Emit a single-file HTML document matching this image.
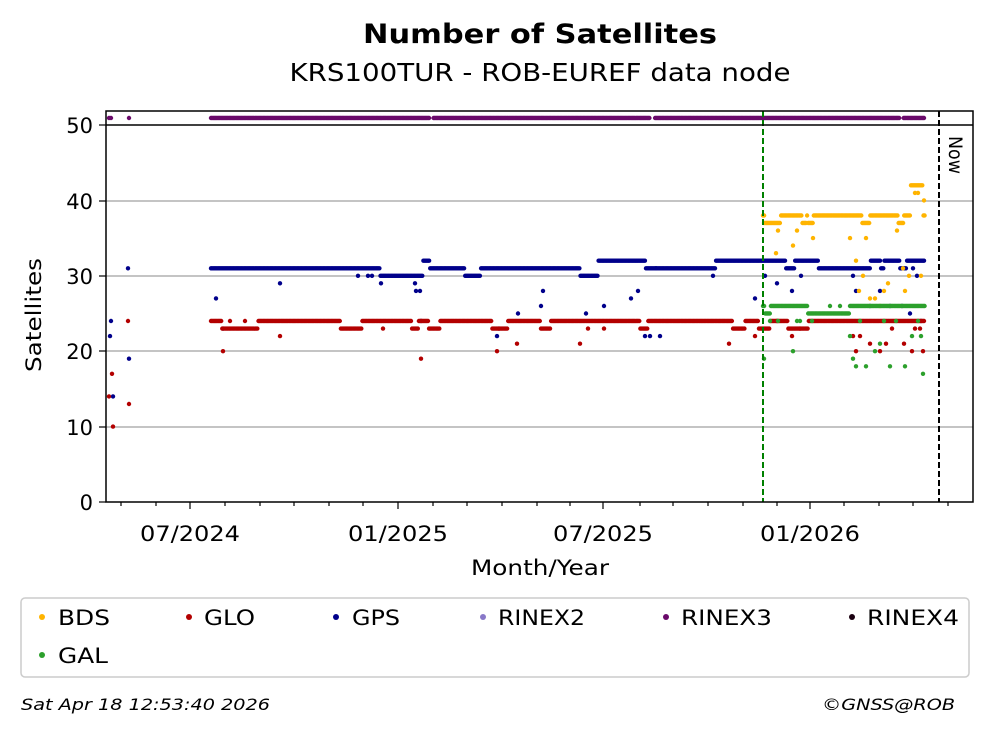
<!DOCTYPE html>
<html><head><meta charset="utf-8"><style>
body{margin:0;background:#fff}
svg{display:block}
text{font-family:"DejaVu Sans","Liberation Sans",sans-serif}
</style></head><body>
<svg id="s" width="992" height="734" viewBox="0 0 992 734" xmlns="http://www.w3.org/2000/svg">
<rect width="992" height="734" fill="#fff"/>
<text x="540" y="43" font-size="27" font-weight="bold" text-anchor="middle" textLength="354" lengthAdjust="spacingAndGlyphs">Number of Satellites</text>
<text x="540" y="81" font-size="25" text-anchor="middle" textLength="501" lengthAdjust="spacingAndGlyphs">KRS100TUR - ROB-EUREF data node</text>
<g stroke="#b0b0b0" stroke-width="1.5">
<line x1="106" x2="973" y1="427" y2="427"/><line x1="106" x2="973" y1="351" y2="351"/>
<line x1="106" x2="973" y1="276" y2="276"/><line x1="106" x2="973" y1="201" y2="201"/>
</g>
<g id="dots"></g>
<line x1="763" x2="763" y1="111" y2="502" stroke="#008000" stroke-width="2" stroke-dasharray="6,3"/>
<line x1="939" x2="939" y1="111" y2="502" stroke="#000" stroke-width="2" stroke-dasharray="6,3"/>
<text transform="translate(949,136) rotate(90)" font-size="19" textLength="38" lengthAdjust="spacingAndGlyphs">Now</text>
<rect x="106" y="111" width="867" height="391" fill="none" stroke="#000" stroke-width="1.5"/>
<line x1="106" x2="973" y1="125" y2="125" stroke="#000" stroke-width="1.5"/>
<g stroke="#000" stroke-width="1.2" id="ticks"></g>
<g font-size="21" text-anchor="end">
<text x="93" y="510">0</text><text x="93" y="435">10</text><text x="93" y="359">20</text>
<text x="93" y="284">30</text><text x="93" y="209">40</text><text x="93" y="133">50</text>
</g>
<g font-size="21" text-anchor="middle">
<text x="190" y="541" textLength="100" lengthAdjust="spacingAndGlyphs">07/2024</text>
<text x="398" y="541" textLength="100" lengthAdjust="spacingAndGlyphs">01/2025</text>
<text x="603" y="541" textLength="100" lengthAdjust="spacingAndGlyphs">07/2025</text>
<text x="810" y="541" textLength="100" lengthAdjust="spacingAndGlyphs">01/2026</text>
<text x="540" y="575" textLength="138" lengthAdjust="spacingAndGlyphs">Month/Year</text>
</g>
<text transform="translate(41,315) rotate(-90)" font-size="21" text-anchor="middle" textLength="114" lengthAdjust="spacingAndGlyphs">Satellites</text>
<rect x="21" y="598" width="948" height="79" rx="4" fill="#fff" stroke="#ccc" stroke-width="1.5"/>
<g font-size="21">
<circle cx="42" cy="617" r="3" fill="#ffb400"/><text x="58" y="625" textLength="52" lengthAdjust="spacingAndGlyphs">BDS</text>
<circle cx="189" cy="617" r="3" fill="#b30000"/><text x="204" y="625" textLength="51" lengthAdjust="spacingAndGlyphs">GLO</text>
<circle cx="336" cy="617" r="3" fill="#00008b"/><text x="352" y="625" textLength="48" lengthAdjust="spacingAndGlyphs">GPS</text>
<circle cx="483" cy="617" r="3" fill="#8878c8"/><text x="498" y="625" textLength="87" lengthAdjust="spacingAndGlyphs">RINEX2</text>
<circle cx="666" cy="617" r="3" fill="#6a0a6a"/><text x="681" y="625" textLength="91" lengthAdjust="spacingAndGlyphs">RINEX3</text>
<circle cx="852" cy="617" r="3" fill="#1a0010"/><text x="867" y="625" textLength="92" lengthAdjust="spacingAndGlyphs">RINEX4</text>
<circle cx="42" cy="655" r="3" fill="#2ca02c"/><text x="58" y="663" textLength="50" lengthAdjust="spacingAndGlyphs">GAL</text>
</g>
<text x="21" y="710" font-size="16" font-style="italic" textLength="249" lengthAdjust="spacingAndGlyphs">Sat Apr 18 12:53:40 2026</text>
<text x="822" y="710" font-size="16" font-style="italic" textLength="133" lengthAdjust="spacingAndGlyphs">©GNSS@ROB</text>
</svg>
<script>
var g=document.getElementById('dots'),out='';
function Y(v){return 502-v*7.54}
function dot(x,v,c){out+='<circle cx="'+x.toFixed(1)+'" cy="'+(v==51?118:Y(v)).toFixed(1)+'" r="2.2" fill="'+c+'"/>';}
function series(segs,pts,c){
 var x0=segs[0][0],x1=segs[0][1];
 for(var x=x0;x<=x1;x+=1.13){var v=null;for(var i=0;i<segs.length;i++){if(x>=segs[i][0]&&x<=segs[i][1])v=segs[i][2];}
  if(v!==null)dot(x,v,c);}
 pts.forEach(function(p){dot(p[0],p[1],c)});
}
series([[211,925,51],[430,433,null],[650,655,null],[900,903,null]],[[109,51],[111,51],[129,51]],'#6a0a6a');
series([[211,925,31],[380,423,30],[423,430,32],[465,480,30],[580,598,30],[598,645,32],[715,790,32],[786,800,31],[795,818,32],[848,860,31],[870,880,32],[884,900,32],[906,925,32],[820,848,31]],
[[110,22],[111,24],[113,14],[128,31],[129,19],[216,27],[223,23],[280,29],[358,30],[368,30],[372,30],[381,29],[415,29],[416,28],[420,28],[421,24],[497,22],[499,23],[518,25],[541,26],[543,28],[586,25],[604,26],[631,27],[638,28],[645,22],[650,22],[656,31],[660,22],[713,30],[755,27],[765,30],[777,29],[792,28],[801,30],[853,30],[856,28],[870,26],[880,28],[890,26],[902,26],[910,25],[921,24],[913,31],[917,30]],'#00008b');
series([[211,925,24],[222,258,23],[340,362,23],[412,418,23],[428,440,23],[492,508,23],[540,550,23],[640,648,23],[733,745,23],[758,770,23],[788,808,23],[860,920,24]],
[[109,14],[112,17],[113,10],[128,24],[129,13],[223,20],[230,24],[245,24],[280,22],[383,23],[421,19],[497,20],[517,21],[580,21],[588,23],[604,23],[729,21],[755,22],[777,24],[792,22],[800,23],[853,22],[856,20],[860,22],[870,21],[880,20],[886,21],[892,23],[904,21],[912,20],[915,23],[920,23],[923,20]],'#b30000');
series([[763,925,38],[765,770,37],[770,780,37],[802,806,37],[808,813,37],[862,870,37],[898,904,37],[910,923,42]],
[[764,37],[776,33],[778,36],[793,34],[797,36],[813,35],[850,35],[856,32],[859,28],[863,30],[866,35],[870,27],[875,27],[880,26],[884,28],[888,29],[897,36],[905,28],[909,30],[915,41],[918,41],[924,40],[921,30],[903,31]],'#ffb400');
series([[763,925,26],[765,770,25],[808,850,25]],
[[764,19],[770,24],[778,24],[793,20],[797,24],[800,24],[812,24],[850,22],[853,19],[856,18],[860,24],[866,18],[875,20],[880,21],[884,24],[890,18],[896,24],[905,18],[912,22],[918,24],[921,22],[923,17],[830,26],[840,26]],'#2ca02c');
g.innerHTML=out;
var t='';[121,156,225,260,294,329,363,433,467,502,537,570,640,673,708,743,777,844,879,913,948].forEach(function(x){t+='<line x1="'+x+'" x2="'+x+'" y1="502" y2="506"/>'});
[190,398,603,810].forEach(function(x){t+='<line x1="'+x+'" x2="'+x+'" y1="502" y2="509"/>'});
[427,351,276,201,125,502].forEach(function(y){t+='<line x1="99" x2="106" y1="'+y+'" y2="'+y+'"/>'});
document.getElementById('ticks').innerHTML=t;
</script>
</body></html>
